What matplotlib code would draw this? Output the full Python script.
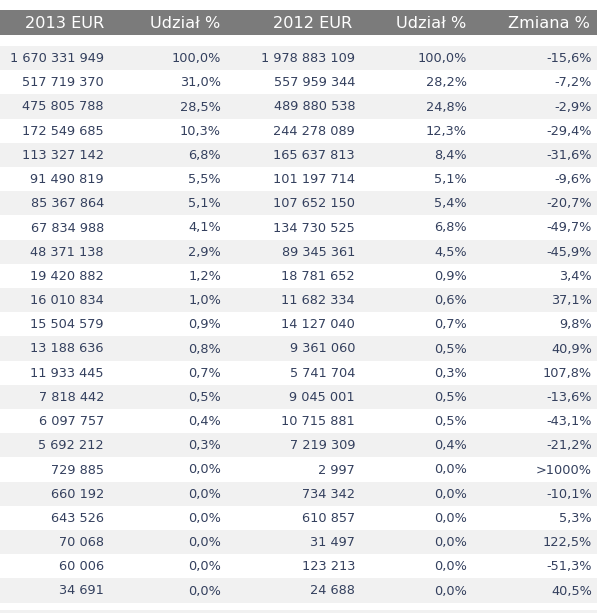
import matplotlib.pyplot as plt

headers = ["2013 EUR", "Udział %", "2012 EUR", "Udział %", "Zmiana %"]
eur_2013 = [1670331949, 517719370, 475805788, 172549685, 113327142, 91490819,
            85367864, 67834988, 48371138, 19420882, 16010834, 15504579,
            13188636, 11933445, 7818442, 6097757, 5692212, 729885, 660192,
            643526, 70068, 60006, 34691]
share_2013 = [100.0, 31.0, 28.5, 10.3, 6.8, 5.5, 5.1, 4.1, 2.9, 1.2, 1.0, 0.9,
              0.8, 0.7, 0.5, 0.4, 0.3, 0.0, 0.0, 0.0, 0.0, 0.0, 0.0]
eur_2012 = [1978883109, 557959344, 489880538, 244278089, 165637813, 101197714,
            107652150, 134730525, 89345361, 18781652, 11682334, 14127040,
            9361060, 5741704, 9045001, 10715881, 7219309, 2997, 734342,
            610857, 31497, 123213, 24688]
share_2012 = [100.0, 28.2, 24.8, 12.3, 8.4, 5.1, 5.4, 6.8, 4.5, 0.9, 0.6, 0.7,
              0.5, 0.3, 0.5, 0.5, 0.4, 0.0, 0.0, 0.0, 0.0, 0.0, 0.0]
# None = shown as ">1000%"
change = [-15.6, -7.2, -2.9, -29.4, -31.6, -9.6, -20.7, -49.7, -45.9, 3.4,
          37.1, 9.8, 40.9, 107.8, -13.6, -43.1, -21.2, None, -10.1, 5.3,
          122.5, -51.3, 40.5]


def fmt_int(v):
    return f"{v:,}".replace(",", " ")


def fmt_pct(v):
    if v is None:
        return ">1000%"
    return f"{v:.1f}%".replace(".", ",")


W, H = 607, 613
fig = plt.figure(figsize=(W / 100, H / 100), dpi=100)
ax = fig.add_axes([0, 0, 1, 1])
ax.set_xlim(0, W)
ax.set_ylim(H, 0)
ax.axis("off")

text_color = "#34405e"
right_edges = [104, 221, 355, 467, 592]
head_edges = [104, 220, 352, 466, 590]
table_right = 597

# header band
ax.axhspan(10, 35, xmin=0, xmax=table_right / W, color="#7b7b7b", lw=0)
for label, x in zip(headers, head_edges):
    ax.text(x, 23, label, ha="right", va="center", color="white", fontsize=11.6)

top, row_h = 46, 24.2
columns = [
    [fmt_int(v) for v in eur_2013],
    [fmt_pct(v) for v in share_2013],
    [fmt_int(v) for v in eur_2012],
    [fmt_pct(v) for v in share_2012],
    [fmt_pct(v) for v in change],
]
for i in range(len(eur_2013)):
    y0 = top + i * row_h
    if i % 2 == 0:
        ax.axhspan(y0, y0 + row_h, xmin=0, xmax=table_right / W,
                   color="#f1f1f1", lw=0)
    for col, x in zip(columns, right_edges):
        ax.text(x, y0 + row_h / 2 + 0.5, col[i], ha="right", va="center",
                color=text_color, fontsize=9.3)

# faint line under the table
ax.axhspan(610, 613, xmin=0, xmax=table_right / W, color="#f1f1f1", lw=0)

fig.savefig("out.png", dpi=100)
